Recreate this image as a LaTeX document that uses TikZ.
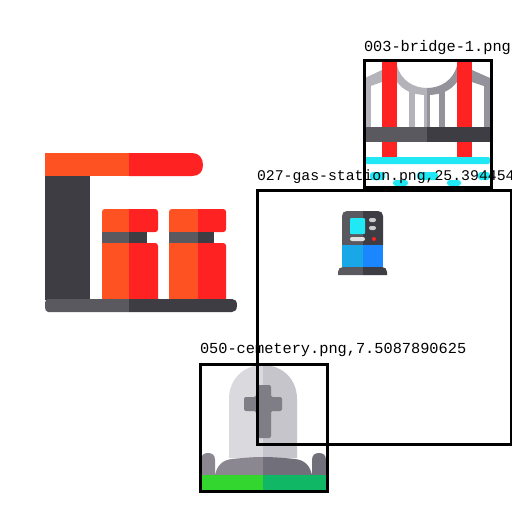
\documentclass[tikz,border=0pt]{standalone}
\usepackage{tikz}
\usepackage{fontspec}
\newfontfamily\namefont{Liberation Mono}

\definecolor{slateL}{HTML}{5A595F}
\definecolor{slateR}{HTML}{3E3D44}
\definecolor{fireL}{HTML}{FF5222}
\definecolor{fireR}{HTML}{FF2222}
\definecolor{aqua}{HTML}{20E8F4}
\definecolor{steelL}{HTML}{B4B3B9}
\definecolor{steelR}{HTML}{94939B}
\definecolor{skyL}{HTML}{18A8E8}
\definecolor{skyR}{HTML}{1A86FF}
\definecolor{stoneL}{HTML}{DADADE}
\definecolor{stoneR}{HTML}{C6C5CB}
\definecolor{crossC}{HTML}{7F7D86}
\definecolor{moundL}{HTML}{8A8791}
\definecolor{moundR}{HTML}{716F79}
\definecolor{grassL}{HTML}{32D62F}
\definecolor{grassR}{HTML}{10B765}

\tikzset{
  framebox/.style={draw=black,line width=3pt,fill=none,minimum width=127pt,minimum height=127pt,inner sep=0pt,outer sep=0pt},
  filename/.style={anchor=base west,inner sep=0pt,outer sep=0pt,text=black,font=\namefont\fontsize{15.3}{16}\selectfont}
}

\begin{document}
\begin{tikzpicture}[x=1pt,y=-1pt]
	\useasboundingbox (0,0) rectangle (512,512);
	\clip (0,0) rectangle (512,512);
	\fill[white] (0,0) rectangle (512,512);

	% big gas station
	\fill[slateR] (45,176) rectangle (90,300);
	\fill[fireL] (45,153) rectangle (129,176);
	\fill[fireR] (129,176) -- (129,153) -- (192,153) .. controls (199,153) and (203,158) .. (203,165) .. controls (203,172) and (199,176) .. (192,176) -- cycle;
	\foreach \xa/\xb/\xc/\xd in {102/129/147/158,169/198/214/226} {
		\fill[fireL] (\xa,243) rectangle (\xb,300);
		\fill[fireR] (\xb,300) -- (\xb,243) -- (\xd-3,243) .. controls (\xd-1,243) and (\xd,244) .. (\xd,246) -- (\xd,300) -- cycle;
		\fill[fireL] (\xa,232) -- (\xa,212) .. controls (\xa,210) and (\xa+1,209) .. (\xa+3,209) -- (\xb,209) -- (\xb,232) -- cycle;
		\fill[fireR] (\xb,232) -- (\xb,209) -- (\xd-3,209) .. controls (\xd-1,209) and (\xd,210) .. (\xd,212) -- (\xd,229) .. controls (\xd,231) and (\xd-1,232) .. (\xd-3,232) -- cycle;
		\fill[slateL] (\xa,232) rectangle (\xb,243);
		\fill[slateR] (\xb,232) rectangle (\xc,243);
	}
	\fill[slateL] (129,299) -- (48,299) .. controls (46,299) and (45,301) .. (45,305) .. controls (45,310) and (46,312) .. (48,312) -- (129,312) -- cycle;
	\fill[slateR] (129,299) -- (232,299) .. controls (235,299) and (237,301) .. (237,305) .. controls (237,310) and (235,312) .. (232,312) -- (129,312) -- cycle;

	% bridge
	\foreach \xa/\xb/\ya/\tone in {366/371/84/steelL,409/415/88/steelL,424/427/91/steelL,427/430/91/steelR,439/445/88/steelR,484/490/84/steelR}
		\fill[\tone] (\xa,\ya) rectangle (\xb,127);
	\fill[steelL] (397,66) .. controls (401,80) and (413,88) .. (427,88) -- (427,95) .. controls (412,95) and (403,90) .. (397,82) -- cycle;
	\fill[steelR] (457,66) .. controls (453,80) and (441,88) .. (427,88) -- (427,95) .. controls (442,95) and (451,90) .. (457,82) -- cycle;
	\fill[steelL] (382,70) -- (365,78) -- (365,88) -- (382,82) -- cycle;
	\fill[steelR] (472,70) -- (490,78) -- (490,88) -- (472,82) -- cycle;
	\fill[fireR] (382,62) rectangle (397,157);
	\fill[fireR] (457,62) rectangle (472,157);
	\fill[slateL] (365,127) rectangle (427,142);
	\fill[slateR] (427,127) rectangle (490,142);
	\fill[aqua,rounded corners=2pt] (365,157) rectangle (490,164);
	\foreach \xa/\xb/\ya/\yb in {370/385/172/180,417/438/172/180,478/490/172/180,393/408/180/186,447/461/180/186}
		\fill[aqua,rounded corners=3pt] (\xa,\ya) rectangle (\xb,\yb);

	% small pump
	\fill[slateL] (363,245) -- (342,245) -- (342,216) .. controls (342,213) and (344,211) .. (347,211) -- (363,211) -- cycle;
	\fill[slateR] (363,245) -- (383,245) -- (383,216) .. controls (383,213) and (381,211) .. (378,211) -- (363,211) -- cycle;
	\fill[aqua,rounded corners=1pt] (350,218) rectangle (365,234);
	\foreach \ya/\yb in {218/222,226/230}
		\fill[black!20,rounded corners=2pt] (369,\ya) rectangle (376,\yb);
	\fill[black!12,rounded corners=2pt] (350,237) rectangle (365,241);
	\fill[fireR] (374,239) circle (2);
	\fill[skyL] (342,245) rectangle (363,267);
	\fill[skyR] (363,245) rectangle (383,267);
	\fill[slateL] (363,275) -- (338,275) -- (338,272) .. controls (338,269) and (340,267) .. (343,267) -- (363,267) -- cycle;
	\fill[slateR] (363,275) -- (387,275) -- (387,272) .. controls (387,269) and (385,267) .. (382,267) -- (363,267) -- cycle;

	% cemetery
	\fill[stoneL] (263,458) -- (229,458) -- (229,399) .. controls (229,378) and (245,365) .. (263,365) -- cycle;
	\fill[stoneR] (263,458) -- (297,458) -- (297,399) .. controls (297,378) and (281,365) .. (263,365) -- cycle;
	\fill[crossC,rounded corners=2pt] (256,385) -- (271,385) -- (271,397) -- (282,397) -- (282,411) -- (271,411) -- (271,438) -- (256,438) -- (256,411) -- (244,411) -- (244,397) -- (256,397) -- cycle;
	\fill[moundL] (201,475) -- (201,460) .. controls (201,455) and (204,453) .. (208,453) .. controls (212,453) and (215,455) .. (215,460) -- (215,475) -- cycle;
	\fill[moundR] (312,475) -- (312,460) .. controls (312,455) and (315,453) .. (319,453) .. controls (323,453) and (326,455) .. (326,460) -- (326,475) -- cycle;
	\fill[moundL] (215,475) .. controls (217,466) and (222,460) .. (232,459) .. controls (242,458) and (252,457) .. (263,457) -- (263,475) -- cycle;
	\fill[moundR] (312,475) .. controls (310,466) and (305,460) .. (295,459) .. controls (285,458) and (274,457) .. (263,457) -- (263,475) -- cycle;
	\fill[grassL] (201,475) rectangle (263,490);
	\fill[grassR] (263,475) rectangle (326,490);

	% frames and names
	\node (bridgebox)[framebox] at (427.5,123.5) {};
	\node (gasbox)[framebox,minimum width=254pt,minimum height=254pt] at (384,317) {};
	\node (gravebox)[framebox] at (263.5,427.5) {};

	\node (bridgename)[filename] at (364,51) {003-bridge-1.png};
	\node (gasname)[filename,font=\namefont\fontsize{14.8}{16}\selectfont] at (257,180) {027-gas-station.png,25.394454};
	\node (gravename)[filename] at (200,353) {050-cemetery.png,7.5087890625};
\end{tikzpicture}
\end{document}
